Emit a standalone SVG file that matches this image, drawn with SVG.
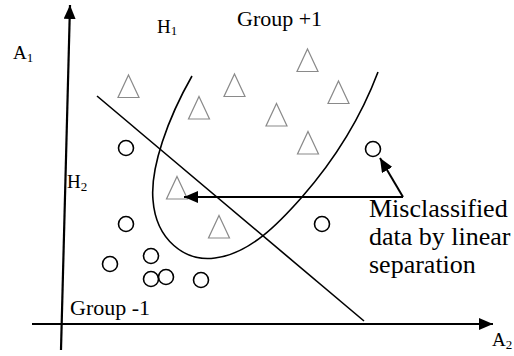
<svg xmlns="http://www.w3.org/2000/svg" width="514" height="356" viewBox="0 0 514 356">
<style>
  .t { font-family: "Liberation Serif", "Times New Roman", serif; fill: #000; }
  .tri { fill: none; stroke: #8a8a8a; stroke-width: 1.2; }
  .circ { fill: none; stroke: #000; stroke-width: 1.6; }
  .axis { stroke: #000; stroke-width: 2.2; fill: none; }
  .sep { stroke: #000; stroke-width: 1.6; fill: none; }
  .arrow { stroke: #000; stroke-width: 2; fill: none; }
</style>
<defs>
  <marker id="head" viewBox="0 0 14 12" refX="14" refY="6" markerWidth="14" markerHeight="12" markerUnits="userSpaceOnUse" orient="auto">
    <path d="M0,0 L14,6 L0,12 Z" fill="#000"/>
  </marker>
  <path id="triShape" d="M0,-11.5 L10.5,11 L-10.5,11 Z"/>
</defs>
<rect width="514" height="356" fill="#fff"/>

<g id="axes">
  <line class="axis" x1="61" y1="350" x2="70" y2="5" marker-end="url(#head)"/>
  <line class="axis" x1="32" y1="324" x2="493" y2="324" marker-end="url(#head)"/>
</g>

<g id="separators">
  <line id="H2-line" class="sep" x1="97" y1="96" x2="364" y2="321"/>
  <path id="H1-curve" class="sep" d="M192,76 C168,118 150,168 153,200 C156,240 185,262 215,258 C250,254 280,222 302,197 C330,165 358,125 378,72"/>
</g>

<g id="triangles">
  <g id="tri1"><use href="#triShape" class="tri" x="128.5" y="86.5"/></g>
  <g id="tri2"><use href="#triShape" class="tri" x="199" y="108"/></g>
  <g id="tri3"><use href="#triShape" class="tri" x="234.5" y="85.5"/></g>
  <g id="tri4"><use href="#triShape" class="tri" x="307.5" y="60.5"/></g>
  <g id="tri5"><use href="#triShape" class="tri" x="338.5" y="92.5"/></g>
  <g id="tri6"><use href="#triShape" class="tri" x="276.5" y="115"/></g>
  <g id="tri7"><use href="#triShape" class="tri" x="308" y="143"/></g>
  <g id="tri8"><use href="#triShape" class="tri" x="177" y="188"/></g>
  <g id="tri9"><use href="#triShape" class="tri" x="219" y="227"/></g>
</g>

<g id="circles">
  <g id="c1"><circle class="circ" cx="126" cy="148" r="7.5"/></g>
  <g id="c2"><circle class="circ" cx="373" cy="149" r="7.5"/></g>
  <g id="c3"><circle class="circ" cx="126" cy="224" r="7.5"/></g>
  <g id="c4"><circle class="circ" cx="110" cy="264" r="7.5"/></g>
  <g id="c5"><circle class="circ" cx="151" cy="256" r="7.5"/></g>
  <g id="c6"><circle class="circ" cx="151" cy="279" r="7.5"/></g>
  <g id="c7"><circle class="circ" cx="166" cy="277" r="7.5"/></g>
  <g id="c8"><circle class="circ" cx="201" cy="280" r="7.5"/></g>
  <g id="c9"><circle class="circ" cx="322" cy="224" r="7.5"/></g>
</g>

<g id="connectors">
  <path class="arrow" d="M403,197 L184,197" marker-end="url(#head)"/>
  <path class="arrow" d="M403,197 L380,158" marker-end="url(#head)"/>
</g>

<g id="labels">
  <text class="t" x="13" y="59" font-size="19">A<tspan font-size="13" dy="3">1</tspan></text>
  <text class="t" x="157" y="33" font-size="19">H<tspan font-size="13" dy="2">1</tspan></text>
  <text class="t" x="67" y="188" font-size="19">H<tspan font-size="13" dy="3">2</tspan></text>
  <text class="t" x="492" y="346" font-size="19">A<tspan font-size="13" dy="3">2</tspan></text>
  <text class="t" x="237" y="26" font-size="22">Group +1</text>
  <text class="t" x="70" y="315" font-size="22">Group -1</text>
  <text class="t" x="369" y="217" font-size="26">Misclassified</text>
  <text class="t" x="369" y="245" font-size="26">data by linear</text>
  <text class="t" x="369" y="273" font-size="26">separation</text>
</g>
</svg>
